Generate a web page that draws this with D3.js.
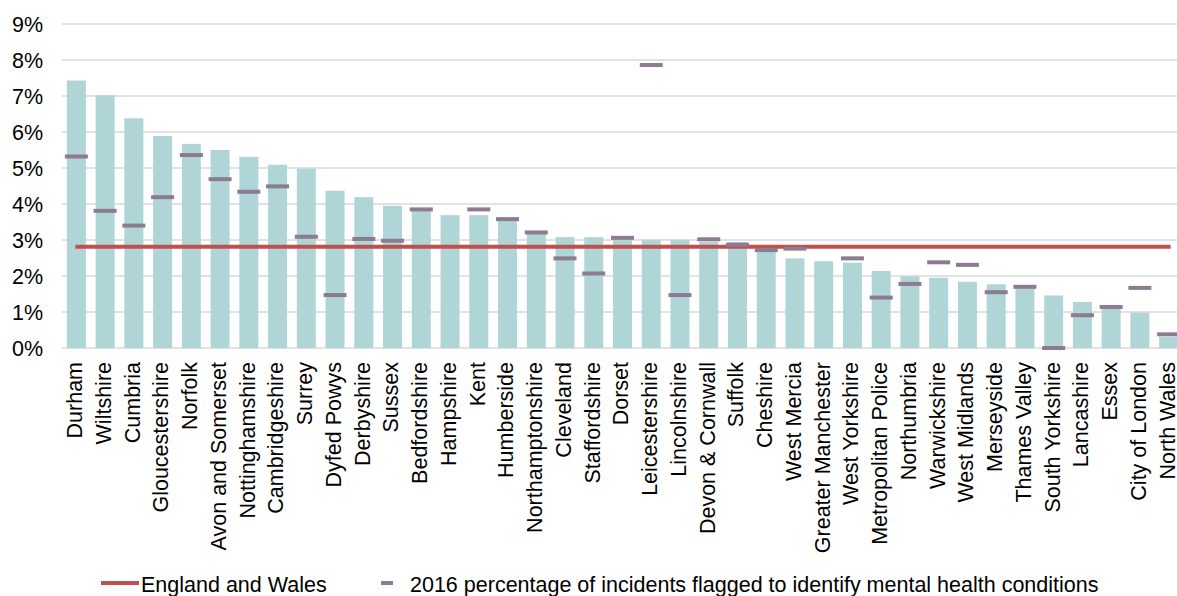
<!DOCTYPE html>
<html>
<head>
<meta charset="utf-8">
<script src="https://cdn.jsdelivr.net/npm/d3@7"></script>
<style>
  html, body { margin: 0; padding: 0; background: #fff; }
  svg { display: block; font-family: "Liberation Sans", Arial, sans-serif; }
</style>
</head>
<body>
<svg id="chart" width="1177" height="596"></svg>
<script>
const categories = ["Durham","Wiltshire","Cumbria","Gloucestershire","Norfolk","Avon and Somerset","Nottinghamshire","Cambridgeshire","Surrey","Dyfed Powys","Derbyshire","Sussex","Bedfordshire","Hampshire","Kent","Humberside","Northamptonshire","Cleveland","Staffordshire","Dorset","Leicestershire","Lincolnshire","Devon & Cornwall","Suffolk","Cheshire","West Mercia","Greater Manchester","West Yorkshire","Metropolitan Police","Northumbria","Warwickshire","West Midlands","Merseyside","Thames Valley","South Yorkshire","Lancashire","Essex","City of London","North Wales"];

const rates = [7.43,7.02,6.38,5.89,5.67,5.50,5.31,5.09,4.98,4.37,4.19,3.95,3.83,3.69,3.69,3.56,3.19,3.08,3.08,3.02,3.01,3.01,2.95,2.94,2.77,2.49,2.41,2.37,2.14,1.99,1.95,1.84,1.77,1.66,1.46,1.28,1.10,0.98,0.31];

const rates2016 = [5.32,3.81,3.40,4.19,5.36,4.69,4.34,4.49,3.09,1.47,3.03,2.98,3.85,null,3.85,3.58,3.21,2.49,2.07,3.06,7.86,1.47,3.02,2.87,2.72,2.76,null,2.49,1.40,1.78,2.38,2.31,1.55,1.70,0.00,0.91,1.14,1.67,0.38];

const englandWales = 2.81;

const yTicks = [0,1,2,3,4,5,6,7,8,9];

const legendLabels = ["England and Wales","2016 percentage of incidents flagged to identify mental health conditions"];

const svg = d3.select("#chart");
const FONT = "21.5px";

const x = d3.scaleBand().domain(categories).range([62, 1183]).paddingInner(0.34).paddingOuter(0.17);
const y = d3.scaleLinear().domain([0, 9]).range([348, 24]);

// gridlines
svg.append("g").selectAll("line").data(yTicks).join("line")
  .attr("x1", 62).attr("x2", 1183)
  .attr("y1", d => y(d)).attr("y2", d => y(d))
  .attr("stroke", "#d9d9d9").attr("stroke-width", 1.4);

// y tick labels
svg.append("g").selectAll("text").data(yTicks).join("text")
  .attr("x", 43).attr("y", d => y(d)).attr("dy", "0.35em")
  .attr("text-anchor", "end").attr("font-size", FONT).attr("fill", "#000")
  .text(d => d + "%");

// bars
svg.append("g").selectAll("rect").data(categories).join("rect")
  .attr("x", d => x(d)).attr("width", x.bandwidth())
  .attr("y", (d, i) => y(rates[i])).attr("height", (d, i) => y(0) - y(rates[i]))
  .attr("fill", "#afd5d7");

// England and Wales line
const c0 = x(categories[0]) + x.bandwidth() / 2;
const c1 = x(categories[categories.length - 1]) + x.bandwidth() / 2;
svg.append("line")
  .attr("x1", c0 - 1).attr("x2", c1 + 2)
  .attr("y1", y(englandWales)).attr("y2", y(englandWales))
  .attr("stroke", "#c0504d").attr("stroke-width", 4);

// 2016 markers
const mw = 23;
svg.append("g").selectAll("rect").data(categories.map((c, i) => ({c, v: rates2016[i]})).filter(d => d.v !== null)).join("rect")
  .attr("x", d => x(d.c) + x.bandwidth() / 2 - mw / 2).attr("width", mw)
  .attr("y", d => y(d.v) - 2).attr("height", 4)
  .attr("fill", "#8c7b91");

// x labels
svg.append("g").selectAll("text").data(categories).join("text")
  .attr("transform", d => `translate(${x(d) + x.bandwidth() / 2 - 1},362) rotate(-90)`)
  .attr("dy", "0.32em").attr("text-anchor", "end")
  .attr("font-size", FONT).attr("fill", "#000")
  .text(d => d);

// legend
const lg = svg.append("g");
lg.append("line").attr("x1", 101).attr("x2", 139).attr("y1", 583).attr("y2", 583)
  .attr("stroke", "#c0504d").attr("stroke-width", 4);
lg.append("text").attr("x", 141).attr("y", 584).attr("dy", "0.35em")
  .attr("font-size", FONT).attr("fill", "#000").text(legendLabels[0]);
lg.append("rect").attr("x", 381).attr("y", 581).attr("width", 12).attr("height", 4).attr("fill", "#8c7b91");
lg.append("text").attr("x", 410).attr("y", 584).attr("dy", "0.35em")
  .attr("font-size", FONT).attr("fill", "#000").text(legendLabels[1]);
</script>
</body>
</html>
